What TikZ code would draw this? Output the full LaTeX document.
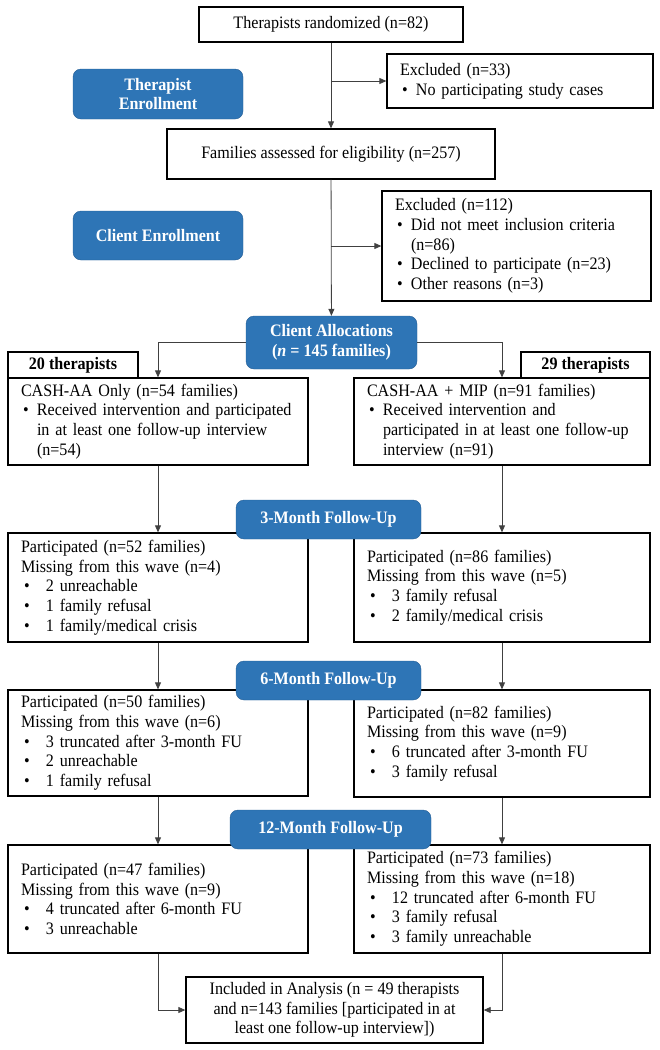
\documentclass[tikz,border=0pt]{standalone}
\usepackage{fontspec}
\setmainfont{Liberation Serif}[FakeStretch=0.92]
\usepackage{tikz}
\usetikzlibrary{arrows.meta,shapes}

\definecolor{stageblue}{RGB}{46,117,182}
\definecolor{stageedge}{RGB}{37,94,148}

\newcommand{\blt}{\hspace*{2pt}\makebox[14pt][l]{\textbullet}}
\newcommand{\ind}{\hspace*{16pt}}
\newcommand{\fblt}{\hspace*{3pt}\makebox[22pt][l]{\textbullet}}

\tikzset{
  flowbox/.style={draw, rectangle, line width=1.3pt, align=left, inner xsep=13pt, inner ysep=0pt},
  stagebox/.style={draw=stageedge, fill=stageblue, rounded corners=8pt, text=white, font=\fontsize{17.5}{19.7}\selectfont\bfseries, align=center, inner sep=0pt},
  tabbox/.style={draw, rectangle, line width=1.3pt, font=\fontsize{17.5}{19.7}\selectfont\bfseries, inner sep=0pt},
  link/.style={->, draw=black!75, line width=0.8pt}
}

\begin{document}
\begin{tikzpicture}[x=1pt, y=-1pt, >={Triangle[length=7pt,width=6pt]},
    every node/.style={font=\fontsize{17.5}{19.7}\selectfont}]
    \useasboundingbox (0,0) rectangle (659,1050);

    % Define nodes
    \node[flowbox, minimum width=264pt, minimum height=35pt, align=center] at (331, 24.5) (therapists randomized) {Therapists randomized (n=82)};
    \node[flowbox, minimum width=266pt, text width=240pt, minimum height=54pt] at (520, 81) (excluded therapists) {Excluded (n=33)\\ \blt No participating study cases};
    \node[flowbox, minimum width=328pt, minimum height=50pt, align=center] at (331, 154) (families assessed) {Families assessed for eligibility (n=257)};
    \node[flowbox, minimum width=269pt, text width=243pt, minimum height=110pt] at (516.5, 246) (excluded families) {Excluded (n=112)\\ \blt Did not meet inclusion criteria\\ \ind(n=86)\\ \blt Declined to participate (n=23)\\ \blt Other reasons (n=3)};
    \node[stagebox, minimum width=170pt, minimum height=50pt] at (158, 94) (therapist enrollment) {Therapist\\Enrollment};
    \node[stagebox, minimum width=170pt, minimum height=49pt] at (158, 235.5) (client enrollment) {Client Enrollment};
    \node[stagebox, minimum width=171pt, minimum height=53pt] at (331.5, 342.5) (client allocations) {Client Allocations\\(\textit{n} = 145 families)};

    \node[tabbox, minimum width=130pt, minimum height=26pt] at (73, 365) (tab only) {20 therapists};
    \node[tabbox, minimum width=129pt, minimum height=26pt] at (585.5, 365) (tab mip) {29 therapists};
    \node[flowbox, minimum width=300pt, text width=274pt, minimum height=87pt] at (158, 421.5) (cash only) {CASH-AA Only (n=54 families)\\ \blt Received intervention and participated\\ \ind in at least one follow-up interview\\ \ind (n=54)};
    \node[flowbox, minimum width=296pt, text width=270pt, minimum height=87pt] at (502, 421.5) (cash mip) {CASH-AA + MIP (n=91 families)\\ \blt Received intervention and\\ \ind participated in at least one follow-up\\ \ind interview (n=91)};

    \node[flowbox, minimum width=300pt, text width=274pt, minimum height=109pt] at (158, 587.5) (only three) {Participated (n=52 families)\\ Missing from this wave (n=4)\\ \fblt 2 unreachable\\ \fblt 1 family refusal\\ \fblt 1 family/medical crisis};
    \node[flowbox, minimum width=296pt, text width=270pt, minimum height=109pt] at (502, 587.5) (mip three) {Participated (n=86 families)\\ Missing from this wave (n=5)\\ \fblt 3 family refusal\\ \fblt 2 family/medical crisis};
    \node[flowbox, minimum width=300pt, text width=274pt, minimum height=106pt] at (158, 743) (only six) {Participated (n=50 families)\\ Missing from this wave (n=6)\\ \fblt 3 truncated after 3-month FU\\ \fblt 2 unreachable\\ \fblt 1 family refusal};
    \node[flowbox, minimum width=296pt, text width=270pt, minimum height=107pt] at (502, 743.5) (mip six) {Participated (n=82 families)\\ Missing from this wave (n=9)\\ \fblt 6 truncated after 3-month FU\\ \fblt 3 family refusal};
    \node[flowbox, minimum width=300pt, text width=274pt, minimum height=108pt] at (158, 899) (only twelve) {Participated (n=47 families)\\ Missing from this wave (n=9)\\ \fblt 4 truncated after 6-month FU\\ \fblt 3 unreachable};
    \node[flowbox, minimum width=296pt, text width=270pt, minimum height=108pt] at (502, 899) (mip twelve) {Participated (n=73 families)\\ Missing from this wave (n=18)\\ \fblt 12 truncated after 6-month FU\\ \fblt 3 family refusal\\ \fblt 3 family unreachable};
    \node[flowbox, minimum width=297pt, minimum height=66pt, align=center] at (334.5, 1010) (analysis) {Included in Analysis (n = 49 therapists\\ and n=143 families [participated in at\\ least one follow-up interview])};

    \node[stagebox, minimum width=185pt, minimum height=39pt] at (328.5, 519.5) (three month) {3-Month Follow-Up};
    \node[stagebox, minimum width=185pt, minimum height=39pt] at (328.5, 680.5) (six month) {6-Month Follow-Up};
    \node[stagebox, minimum width=201pt, minimum height=39pt] at (330.5, 829.5) (twelve month) {12-Month Follow-Up};

    % Draw arrows
    \draw[link] (therapists randomized) -- (families assessed);
    \draw[link] (therapists randomized.south |- excluded therapists.west) -- (excluded therapists.west);
    \draw[link] (families assessed) -- (client allocations);
    \draw[link] (families assessed.south |- excluded families.west) -- (excluded families.west);
    \draw[link] (client allocations.west) -| (cash only.north);
    \draw[link] (client allocations.east) -| (cash mip.north);
    \draw[link] (cash only) -- (only three);
    \draw[link] (cash mip) -- (mip three);
    \draw[link] (only three) -- (only six);
    \draw[link] (mip three) -- (mip six);
    \draw[link] (only six) -- (only twelve);
    \draw[link] (mip six) -- (mip twelve);
    \draw[link] (only twelve.south) |- (analysis.west);
    \draw[link] (mip twelve.south) |- (analysis.east);
\end{tikzpicture}
\end{document}
